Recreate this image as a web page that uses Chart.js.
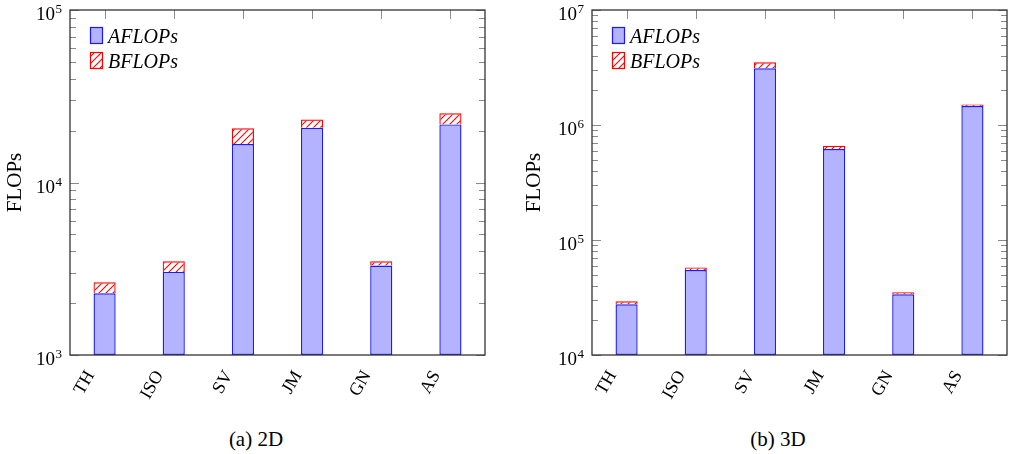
<!DOCTYPE html>
<html>
<head>
<meta charset="utf-8">
<script src="https://cdn.jsdelivr.net/npm/chart.js@4"></script>
<style>
	body { margin: 0; background: #fff; }
	.painel { position: absolute; top: 0; width: 505px; height: 420px; }
	.subtitulo { position: absolute; top: 427px; width: 200px; text-align: center;
		font-family: 'Liberation Serif', serif; font-size: 21px; color: #000; }
</style>
</head>
<body>
<div class="painel" style="left:0"><canvas id="grafico2D"></canvas></div>
<div class="painel" style="left:505px"><canvas id="grafico3D"></canvas></div>
<div class="subtitulo" style="left:156px">(a) 2D</div>
<div class="subtitulo" style="left:678px">(b) 3D</div>
<script>
var categorias = ['TH', 'ISO', 'SV', 'JM', 'GN', 'AS'];
var series = ['AFLOPs', 'BFLOPs'];

var aflops2D = [2280, 3030, 16700, 20800, 3300, 21700];
var bflops2D = [360, 460, 3900, 2400, 190, 3500];
var limites2D = [1e3, 1e5];

var aflops3D = [27600, 54800, 3110000, 618000, 33700, 1460000];
var bflops3D = [1700, 3000, 400000, 43000, 1400, 50000];
var limites3D = [1e4, 1e7];

var FONTE = "'Liberation Serif', serif";

var NGTICAE = NGTICAE || {};

NGTICAE.GraficoFlops = (function() {

	function GraficoFlops(id, aflops, bflops, limites, larguraEixo, margemDireita, recuoTitulo) {
		this.ctx = document.getElementById(id).getContext('2d');
		this.aflops = aflops;
		this.bflops = bflops;
		this.limites = limites;
		this.larguraEixo = larguraEixo;
		this.margemDireita = margemDireita;
		this.recuoTitulo = recuoTitulo;
	}

	function ehPotencia(v) {
		var e = Math.log10(v);
		return Math.abs(e - Math.round(e)) < 1e-9;
	}

	function gerarTicks(min, max) {
		var ticks = [];
		for (var e = Math.round(Math.log10(min)); Math.pow(10, e) <= max; e++) {
			for (var k = 1; k <= 9; k++) {
				var v = k * Math.pow(10, e);
				if (v > max * 1.0001) break;
				ticks.push({ value: v, major: k === 1 });
			}
		}
		return ticks;
	}

	function criarHachura() {
		var c = document.createElement('canvas');
		c.width = 7; c.height = 7;
		var g = c.getContext('2d');
		g.strokeStyle = '#ff0000';
		g.lineWidth = 1.1;
		g.beginPath();
		g.moveTo(0, 7); g.lineTo(7, 0);
		g.moveTo(-1, 1); g.lineTo(1, -1);
		g.moveTo(6, 8); g.lineTo(8, 6);
		g.stroke();
		return g.createPattern(c, 'repeat');
	}

	var moldura = {
		id: 'moldura',
		afterDatasetsDraw: function(chart) {
			var ctx = chart.ctx, a = chart.chartArea;
			var y = chart.scales.y, x = chart.scales.x;
			ctx.save();
			// marcas de escala para dentro
			ctx.strokeStyle = '#8a8a8a';
			ctx.lineWidth = 1;
			ctx.beginPath();
			y.ticks.forEach(function(t) {
				var py = Math.round(y.getPixelForValue(t.value)) + 0.5;
				var tam = ehPotencia(t.value) ? 9 : 6;
				ctx.moveTo(a.left, py); ctx.lineTo(a.left + tam, py);
				ctx.moveTo(a.right, py); ctx.lineTo(a.right - tam, py);
			});
			x.ticks.forEach(function(t, i) {
				var px = Math.round(x.getPixelForTick(i)) + 0.5;
				ctx.moveTo(px, a.top); ctx.lineTo(px, a.top + 9);
			});
			ctx.stroke();
			ctx.strokeStyle = '#333';
			ctx.lineWidth = 1.3;
			ctx.strokeRect(a.left, a.top, a.right - a.left, a.bottom - a.top);
			// rotulos 10^n com expoente
			ctx.fillStyle = '#000';
			ctx.textBaseline = 'alphabetic';
			ctx.textAlign = 'right';
			y.ticks.forEach(function(t) {
				if (!ehPotencia(t.value)) return;
				var py = y.getPixelForValue(t.value);
				var exp = String(Math.round(Math.log10(t.value)));
				ctx.font = '13px ' + FONTE;
				var wExp = ctx.measureText(exp).width;
				ctx.fillText(exp, a.left - 8, py + 3);
				ctx.font = '19px ' + FONTE;
				ctx.fillText('10', a.left - 8 - wExp - 0.5, py + 10);
			});
			// legenda interna
			ctx.textAlign = 'left';
			chart.data.datasets.forEach(function(ds, i) {
				var bx = a.left + 20, by = a.top + 17 + i * 25;
				ctx.fillStyle = ds.backgroundColor;
				ctx.fillRect(bx, by, 13, 17);
				ctx.strokeStyle = ds.borderColor;
				ctx.lineWidth = 1.2;
				ctx.strokeRect(bx + 0.5, by + 0.5, 12, 16);
				ctx.fillStyle = '#000';
				ctx.font = 'italic 20px ' + FONTE;
				ctx.fillText(ds.label, bx + 18, by + 16);
			});
			ctx.restore();
		}
	};

	GraficoFlops.prototype.iniciar = function() {
		var self = this;
		new Chart(this.ctx, {
			type: 'bar',
			data: {
				labels: categorias,
				datasets: [{
					label: series[0],
					backgroundColor: '#b3b3ff',
					borderColor: '#1a1aff',
					borderWidth: 1.4,
					borderSkipped: false,
					data: this.aflops
				},
				{
					label: series[1],
					backgroundColor: criarHachura(),
					borderColor: '#ff0000',
					borderWidth: 1.2,
					borderSkipped: 'start',
					data: this.bflops
				}]
			},
			options: {
				responsive: true,
				maintainAspectRatio: false,
				animation: false,
				layout: { padding: { left: 0, top: 10, right: this.margemDireita, bottom: 0 } },
				datasets: { bar: { categoryPercentage: 1, barPercentage: 0.32 } },
				plugins: { legend: { display: false }, tooltip: { enabled: false } },
				scales: {
					x: {
						stacked: true,
						grid: { display: false, drawTicks: false },
						border: { display: false },
						afterFit: function(escala) { escala.height = 65; },
						ticks: {
							minRotation: 60, maxRotation: 60, padding: 12, labelOffset: -14,
							color: '#000', font: { family: FONTE, size: 18 }
						}
					},
					y: {
						type: 'logarithmic',
						stacked: true,
						min: this.limites[0],
						max: this.limites[1],
						grid: { display: false, drawTicks: false },
						border: { display: false },
						afterBuildTicks: function(escala) {
							escala.ticks = gerarTicks(self.limites[0], self.limites[1]);
						},
						afterFit: function(escala) { escala.width = self.larguraEixo; },
						ticks: { display: false, autoSkip: false },
						title: {
							display: true, text: 'FLOPs', color: '#000',
							font: { family: FONTE, size: 21 },
							padding: { top: this.recuoTitulo, bottom: 0 }
						}
					}
				}
			},
			plugins: [moldura]
		});
	};

	return GraficoFlops;

}());

var grafico2D = new NGTICAE.GraficoFlops('grafico2D', aflops2D, bflops2D, limites2D, 70, 20, 3);
grafico2D.iniciar();
var grafico3D = new NGTICAE.GraficoFlops('grafico3D', aflops3D, bflops3D, limites3D, 87, 3, 17);
grafico3D.iniciar();
</script>
</body>
</html>
